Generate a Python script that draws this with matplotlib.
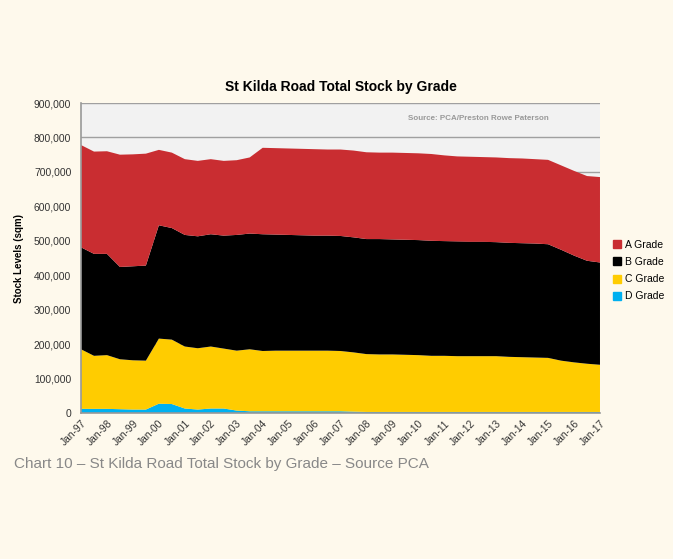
import numpy as np
import matplotlib.pyplot as plt
from matplotlib.ticker import FuncFormatter
from matplotlib.patches import Patch

# half-yearly observations, Jan-97 .. Jan-17 (sqm)
periods = np.arange(41)
tick_labels = ['Jan-%02d' % (y % 100) for y in range(1997, 2018)]

d_grade = [12, 12, 12, 11, 10, 10, 27, 26, 13, 10, 13, 13, 7, 5, 5, 5, 5, 5, 5, 5,
           5, 4, 3, 3, 3, 3, 3, 3, 3, 3, 3, 3, 3, 3, 3, 3, 3, 3, 3, 3, 3]
c_grade = [173, 154, 156, 145, 143, 142, 189, 187, 180, 178, 180, 174, 174, 180, 175, 176, 176, 176, 176, 176,
           175, 172, 168, 167, 167, 166, 165, 163, 163, 162, 162, 162, 162, 160, 159, 158, 157, 149, 144, 140, 137]
b_grade = [296, 296, 294, 268, 273, 276, 329, 324, 324, 325, 326, 328, 336, 336, 339, 337, 336, 335, 334, 334,
           334, 334, 334, 335, 334, 334, 334, 334, 333, 333, 332, 332, 331, 331, 331, 331, 330, 322, 310, 299, 297]
a_grade = [297, 297, 298, 326, 325, 325, 219, 219, 220, 219, 218, 217, 217, 221, 251, 251, 251, 251, 251, 250,
           251, 252, 252, 251, 252, 252, 252, 252, 249, 247, 247, 246, 246, 246, 246, 245, 245, 245, 246, 246, 248]

series = [np.array(s) * 1000 for s in (d_grade, c_grade, b_grade, a_grade)]
colors = ['#00B0F0', '#FFCC00', '#000000', '#C92D31']
names = ['D Grade', 'C Grade', 'B Grade', 'A Grade']

plt.rcParams['font.family'] = ['Liberation Sans', 'DejaVu Sans']

fig = plt.figure(figsize=(6.73, 5.59), dpi=100)
fig.patch.set_facecolor('#FEF9EC')
ax = fig.add_axes([0.1204, 0.2612, 0.7711, 0.5545])
ax.set_facecolor('#F2F2F2')

ax.stackplot(periods, *series, colors=colors, linewidth=0, zorder=2)

ax.set_xlim(0, 40)
ax.set_ylim(0, 900000)
ax.set_yticks(np.arange(0, 900001, 100000))
ax.yaxis.set_major_formatter(FuncFormatter(lambda v, p: '{:,.0f}'.format(v)))
ax.set_xticks(periods[::2])
ax.set_xticklabels(tick_labels, rotation=45, ha='right', rotation_mode='anchor')
ax.tick_params(axis='both', labelsize=7.4, colors='#333333', length=0)
ax.tick_params(axis='y', pad=7)
ax.tick_params(axis='x', pad=4)
ax.grid(axis='y', color='#A0A0A0', linewidth=1, zorder=1)
ax.set_axisbelow(True)

for side in ['top', 'right']:
    ax.spines[side].set_visible(False)
for side in ['left', 'bottom']:
    ax.spines[side].set_color('#999999')
    ax.spines[side].set_linewidth(1.2)
    ax.spines[side].set_zorder(3)

ax.set_ylabel('Stock Levels (sqm)', fontsize=7, fontweight='bold', labelpad=7)
ax.set_title('St Kilda Road Total Stock by Grade', fontsize=10, fontweight='bold', pad=9)
ax.text(0.765, 0.95, 'Source: PCA/Preston Rowe Paterson', transform=ax.transAxes,
        fontsize=5.8, fontweight='bold', color='#999999', ha='center', va='center')

handles = [Patch(color=c) for c in colors[::-1]]
fig.legend(handles, names[::-1], loc='center left', bbox_to_anchor=(0.897, 0.516),
           frameon=False, fontsize=7.5, handlelength=0.8, handleheight=0.8,
           handletextpad=0.3, labelspacing=0.7)

fig.text(0.021, 0.163, 'Chart 10 \u2013 St Kilda Road Total Stock by Grade \u2013 Source PCA',
         fontsize=11, color='#888888')

fig.savefig('out.png', dpi=100, facecolor=fig.get_facecolor())
